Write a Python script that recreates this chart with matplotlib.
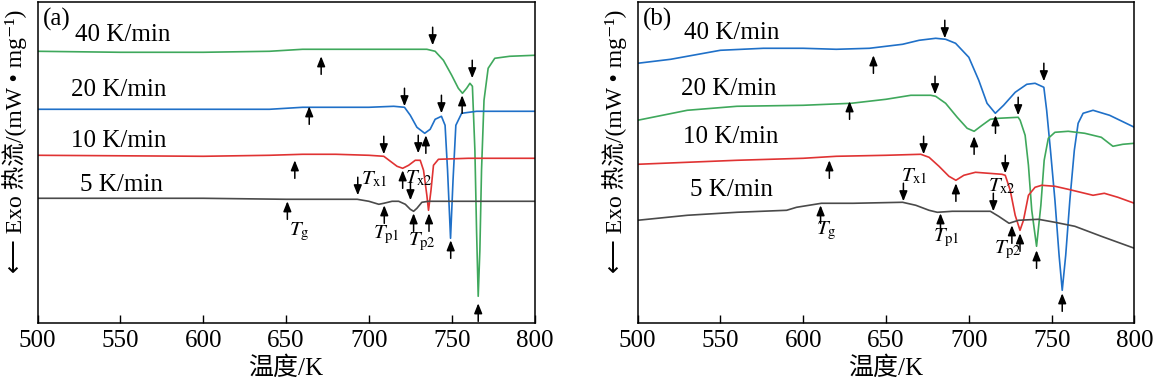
import matplotlib.pyplot as plt

plt.rcParams['mathtext.fontset'] = 'stix'
SERIF = ['Liberation Serif', 'Noto Sans CJK SC', 'DejaVu Sans']

GREEN = '#3fa85c'
BLUE = '#1f70c8'
RED = '#e03333'
GRAY = '#4a4a4a'

RATES = ['40 K/min', '20 K/min', '10 K/min', '5 K/min']

# ---- panel (a): heat flow (arbitrary units, exo down) vs temperature (K)
a40_t = [500, 550, 600, 640, 660, 680, 700, 720, 735, 740, 745, 750, 754, 756.5, 759, 761, 762.5,
         764, 765, 766, 767, 768, 769.5, 772, 776, 785, 800]
a40_y = [27.2, 27.1, 27.1, 27.2, 27.4, 27.4, 27.4, 27.4, 27.4, 27.2, 26.3, 24.8, 23.5, 23.0, 23.5, 24.0, 23.7,
         17.3, 9.3, 2.7, 7.3, 15.3, 22.3, 25.5, 26.5, 26.7, 26.8]
a20_t = [500, 600, 640, 660, 700, 715, 721.5, 725, 729, 733.7, 737, 740, 743.8, 746, 747.5, 749.3,
         750.8, 752.5, 756, 765, 800]
a20_y = [21.4, 21.4, 21.4, 21.6, 21.6, 21.7, 21.6, 20.8, 19.6, 19.0, 19.4, 20.4, 20.7, 19.8, 15.3, 8.5,
         14.3, 19.8, 21.0, 21.2, 21.2]
a10_t = [500, 600, 640, 660, 680, 700, 709, 713, 717, 720.4, 724, 728, 731, 733, 735, 736, 737.5,
         739, 742, 760, 800]
a10_y = [16.8, 16.7, 16.8, 16.9, 16.9, 16.8, 16.7, 16.2, 15.7, 15.5, 15.8, 16.3, 16.3, 15.3, 12.8, 11.3, 13.3,
         15.8, 16.4, 16.5, 16.5]
a5_t = [500, 600, 650, 680, 693, 700, 706, 709, 714, 718, 722, 725, 727, 729, 732, 736, 760, 800]
a5_y = [12.5, 12.5, 12.4, 12.4, 12.4, 12.2, 11.9, 12.0, 12.2, 12.2, 11.9, 11.4, 11.2, 11.5, 12.1, 12.2, 12.2, 12.2]

a_arrow_t = [738.5, 671.2, 756.3, 762.4, 766, 721.5, 664, 734.4, 743.8, 749.4,
             709, 655.3, 720.4, 729.8, 736.3, 693.3, 650.8, 709.3, 725.1, 727]
a_arrow_y = [27.8, 26.7, 22.8, 24.5, 2.0, 21.7, 21.7, 18.8, 21.0, 8.3,
             16.9, 16.3, 15.3, 17.0, 11.0, 12.8, 12.2, 11.8, 12.3, 11.0]
a_arrow_dir = ['d', 'u', 'u', 'd', 'u', 'd', 'u', 'u', 'd', 'u',
               'd', 'u', 'u', 'd', 'u', 'd', 'u', 'u', 'd', 'u']

a_mark_names = ['g', 'x1', 'p1', 'x2', 'p2']
a_mark_t = [651.7, 695.5, 702.4, 721.7, 723.4]
a_mark_y = [9.1, 14.4, 8.8, 14.5, 8.1]

a_rate_t = [522.6, 520.2, 520.2, 525.6]
a_rate_y = [28.8, 23.3, 18.2, 13.8]

# ---- panel (b)
b40_t = [500, 520, 550, 576, 600, 620, 640, 660, 670, 680, 686, 692, 700, 706, 711, 716, 721, 728,
         735, 740, 745.3, 747, 749.3, 752, 754.5, 756.4, 758.5, 761, 763.7, 766, 769, 775, 785, 800]
b40_y = [26.0, 26.4, 27.3, 27.5, 27.5, 27.4, 27.5, 27.9, 28.3, 28.5, 28.4, 28.0, 26.6, 24.3, 22.0, 21.0, 21.8, 23.1,
         23.9, 24.0, 23.6, 21.3, 17.3, 12.3, 6.8, 3.3, 6.8, 12.3, 17.3, 20.0, 21.0, 21.3, 20.8, 19.6]
b20_t = [500, 515, 530, 560, 600, 629, 650, 665, 677, 680, 686, 693, 699, 703.2, 708, 713, 718, 729.8,
         731, 734, 736, 738, 740.9, 743.5, 745.5, 748, 752, 760, 770, 780, 787, 793, 800]
b20_y = [20.3, 20.8, 21.3, 21.7, 21.8, 22.0, 22.4, 22.8, 22.8, 22.7, 22.0, 20.6, 19.5, 19.2, 19.8, 20.4, 20.5, 20.6,
         20.3, 18.8, 15.8, 11.3, 7.7, 11.8, 16.3, 18.5, 19.1, 19.2, 19.0, 18.6, 17.7, 17.9, 18.0]
b10_t = [500, 530, 560, 600, 620, 650, 671, 676, 682, 688, 692.2, 697, 704, 712, 720, 722, 725, 728,
         730.9, 733, 736, 740, 744, 752, 760, 775, 781.8, 790, 800]
b10_y = [15.9, 16.1, 16.3, 16.5, 16.7, 16.8, 16.9, 16.6, 15.7, 14.7, 14.3, 14.8, 15.1, 15.0, 14.9, 14.8, 13.3, 10.8,
         9.3, 10.3, 12.8, 13.6, 13.8, 13.7, 13.4, 12.8, 13.0, 12.6, 12.0]
b5_t = [500, 530, 560, 590, 596, 611, 630, 660, 668, 676, 681, 690, 700, 713, 718, 724.3, 730, 742,
        752, 764, 780, 800]
b5_y = [10.3, 10.8, 11.1, 11.3, 11.6, 12.0, 12.0, 12.1, 11.8, 11.3, 11.1, 11.2, 11.2, 11.2, 10.7, 10.0, 10.3, 10.4,
        10.1, 9.7, 8.7, 7.5]

b_arrow_t = [685.5, 642.4, 716.1, 745.3, 756.4, 679.6, 628, 703.2, 729.8, 740.9,
             672.7, 615.8, 692.2, 722, 730.9, 660.5, 610.5, 682.9, 714.8, 726]
b_arrow_y = [28.5, 26.8, 20.8, 24.2, 3.0, 22.9, 22.2, 18.7, 20.8, 7.3,
             16.9, 16.3, 14.0, 15.0, 9.0, 12.2, 11.8, 11.0, 11.2, 9.8]
b_arrow_dir = ['d', 'u', 'u', 'd', 'u', 'd', 'u', 'u', 'd', 'u',
               'd', 'u', 'u', 'd', 'u', 'd', 'u', 'u', 'd', 'u']

b_mark_names = ['g', 'x1', 'p1', 'x2', 'p2']
b_mark_t = [608, 659, 678.2, 711.4, 715.4]
b_mark_y = [9.2, 14.7, 8.5, 13.7, 7.3]

b_rate_t = [528.3, 526.2, 527.2, 531.6]
b_rate_y = [29.0, 23.4, 18.6, 13.3]

XTICKS = [500, 550, 600, 650, 700, 750, 800]


def draw_panel(ax, tag, curves, colors, arrows, marks, rates):
    for (t, y), c in zip(curves, colors):
        ax.plot(t, y, color=c, lw=1.2)

    for t, y, d in zip(*arrows):
        off = 13 if d == 'd' else -13
        ax.annotate('', xy=(t, y), xytext=(0, off), textcoords='offset points',
                    arrowprops=dict(arrowstyle='-|>,head_length=0.6,head_width=0.24',
                                    color='black', lw=1.1, shrinkA=0, shrinkB=0))

    for name, t, y in zip(*marks):
        ax.text(t, y, r'$T_{\mathrm{%s}}$' % name, fontsize=15, ha='left', va='center')

    for label, t, y in zip(RATES, *rates):
        ax.text(t, y, label, fontsize=18, family=SERIF, ha='left', va='center')

    ax.text(0.011, 0.945, tag, transform=ax.transAxes, fontsize=18, family=SERIF,
            ha='left', va='center')

    ax.set_xlim(500, 800)
    ax.set_ylim(0, 32.13)
    ax.set_xticks(XTICKS)
    ax.set_yticks([])
    ax.tick_params(axis='x', direction='in', length=6, width=1, pad=5, labelsize=18)
    for lab in ax.get_xticklabels():
        lab.set_family(SERIF)
    for s in ax.spines.values():
        s.set_linewidth(1.1)

    ax.set_xlabel('温度/K', fontsize=18, family=SERIF)
    ax.xaxis.set_label_coords(0.5, -0.139)
    ax.xaxis.label.set_va('center')
    ax.set_ylabel('⟵ Exo 热流/(mW • mg⁻¹)', fontsize=17, family=SERIF)
    ax.yaxis.set_label_coords(-0.047, 0.565)
    ax.yaxis.label.set_va('center')


fig = plt.figure(figsize=(11.55, 3.82), dpi=100)
ax_a = fig.add_axes([0.0325, 0.1537, 0.4303, 0.8411])
ax_b = fig.add_axes([0.552, 0.1537, 0.4302, 0.8411])

draw_panel(ax_a, '(a)',
           [(a40_t, a40_y), (a20_t, a20_y), (a10_t, a10_y), (a5_t, a5_y)],
           [GREEN, BLUE, RED, GRAY],
           (a_arrow_t, a_arrow_y, a_arrow_dir),
           (a_mark_names, a_mark_t, a_mark_y),
           (a_rate_t, a_rate_y))

draw_panel(ax_b, '(b)',
           [(b40_t, b40_y), (b20_t, b20_y), (b10_t, b10_y), (b5_t, b5_y)],
           [BLUE, GREEN, RED, GRAY],
           (b_arrow_t, b_arrow_y, b_arrow_dir),
           (b_mark_names, b_mark_t, b_mark_y),
           (b_rate_t, b_rate_y))

fig.savefig('out.png', dpi=100)
